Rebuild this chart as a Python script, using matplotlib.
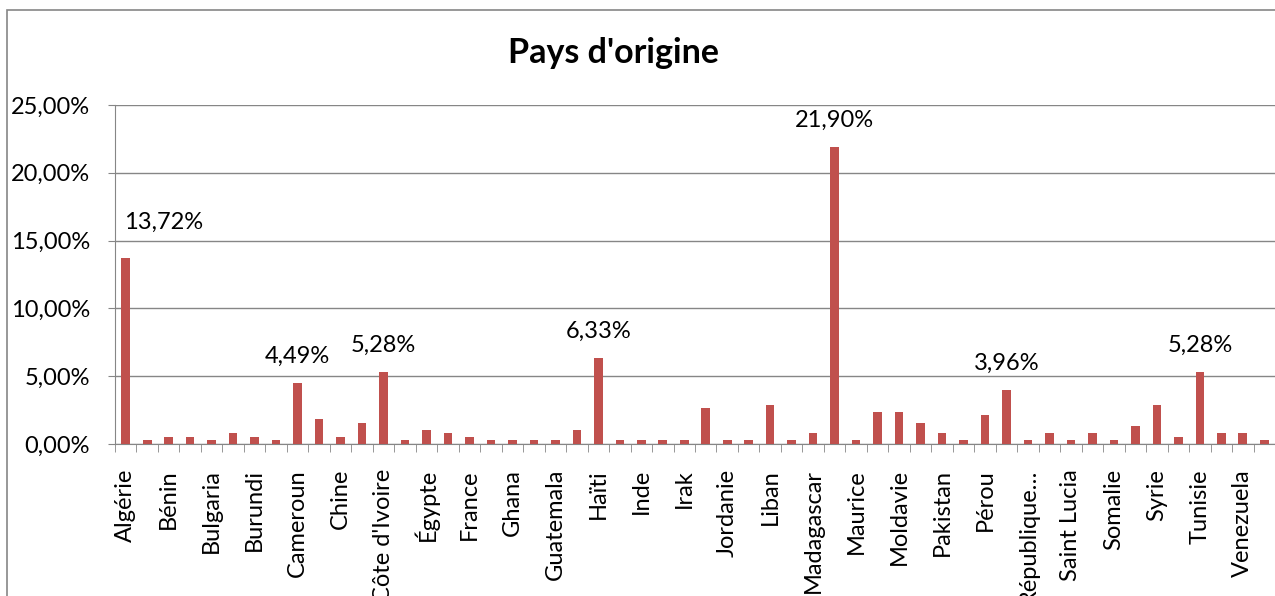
import numpy as np
import matplotlib.pyplot as plt
from matplotlib.patches import Rectangle

# Pays (une étiquette sur deux est affichée dans le graphique)
pays = ["Algérie", "Belgique", "Bénin", "Brésil", "Bulgaria", "Burkina Faso",
        "Burundi", "Cambodge", "Cameroun", "Chili", "Chine", "Colombie",
        "Côte d'Ivoire", "Cuba", "Égypte", "Espagne", "France", "Gabon",
        "Ghana", "Grèce", "Guatemala", "Guinée", "Haïti", "Honduras",
        "Inde", "Indonésie", "Irak", "Iran", "Jordanie", "Kenya",
        "Liban", "Libye", "Madagascar", "Maroc", "Maurice", "Mexique",
        "Moldavie", "Nigeria", "Pakistan", "Paraguay", "Pérou", "Philippines",
        "République…", "Roumanie", "Saint Lucia", "Sénégal", "Somalie", "Sri Lanka",
        "Syrie", "Togo", "Tunisie", "Ukraine", "Venezuela", "Vietnam"]

# Pourcentages
pourcentages = [13.72, 0.26, 0.53, 0.53, 0.26, 0.79, 0.53, 0.26, 4.49, 1.85,
                0.53, 1.58, 5.28, 0.26, 1.06, 0.79, 0.53, 0.26, 0.26, 0.26,
                0.26, 1.06, 6.33, 0.26, 0.26, 0.26, 0.26, 2.64, 0.26, 0.26,
                2.90, 0.26, 0.79, 21.90, 0.26, 2.37, 2.37, 1.58, 0.79, 0.26,
                2.11, 3.96, 0.26, 0.79, 0.26, 0.79, 0.26, 1.32, 2.90, 0.53,
                5.28, 0.79, 0.79, 0.26]

plt.rcParams['font.family'] = ['Lato', 'DejaVu Sans']

gris = '#868686'
rouge = '#C0504D'

W, H = 1275, 596
fig = plt.figure(figsize=(W / 100, H / 100), dpi=100)

# cadre du graphique (coupé à droite et en bas)
fig.add_artist(Rectangle((7 / W, -0.5), 2, 1 - 10 / H + 0.5, fill=False,
                         edgecolor=gris, lw=1.2, transform=fig.transFigure))

ax = fig.add_axes([115 / W, 1 - 444 / H, 1160 / W, 339 / H])

x = np.arange(len(pays))
ax.bar(x, pourcentages, width=0.4, color=rouge, zorder=3)

ax.set_xlim(-0.5, len(pays) - 0.5)
ax.set_ylim(0, 25)

yt = np.arange(0, 26, 5)
ax.set_yticks(yt)
ax.set_yticklabels([f"{v:.2f}%".replace('.', ',') for v in yt])
ax.yaxis.grid(True, color=gris, lw=1)
ax.set_axisbelow(True)

ax.set_xticks(x[::2])
ax.set_xticklabels(pays[::2], rotation=90, ha='center', va='top')
ax.set_xticks(np.arange(-0.5, len(pays), 1), minor=True)

ax.tick_params(axis='y', direction='out', length=5, color=gris, pad=13,
               labelsize=17)
ax.tick_params(axis='x', which='major', length=0, pad=18, labelsize=17)
ax.tick_params(axis='x', which='minor', direction='out', length=6, color=gris)

for s in ['top', 'right']:
    ax.spines[s].set_visible(False)
ax.spines['left'].set_color(gris)
ax.spines['bottom'].set_color(gris)

# étiquettes de données pour les grandes valeurs
for i, v in enumerate(pourcentages):
    if v > 3.5:
        dx, dy = (38, 36) if i == 0 else (0, 27)
        ax.annotate(f"{v:.2f}%".replace('.', ','), (i, v), xytext=(dx, dy),
                    textcoords='offset pixels', ha='center', va='center',
                    fontsize=17)

fig.text(614 / W, 1 - 63 / H, "Pays d'origine", ha='center', va='baseline',
         fontsize=24.5, fontweight='bold')

fig.savefig('out.png', dpi=100)
